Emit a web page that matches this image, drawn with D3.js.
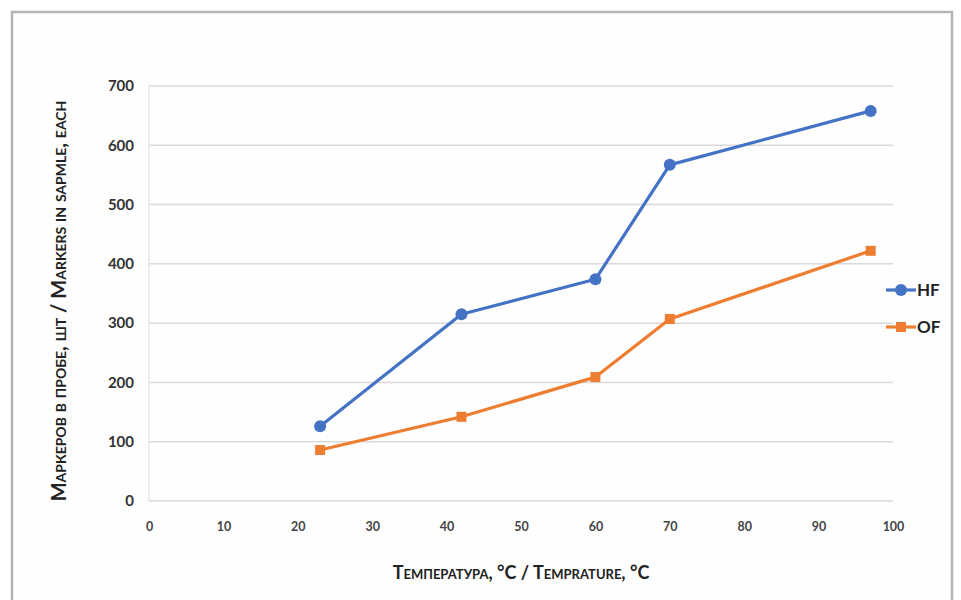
<!DOCTYPE html>
<html><head><meta charset="utf-8">
<script src="https://cdn.jsdelivr.net/npm/d3@7/dist/d3.min.js"></script>
<style>body{margin:0;background:#fff}svg{display:block}</style>
</head><body>
<svg id="c" width="961" height="600"></svg>
<script>
const temps = [23, 42, 60, 70, 97];
const seriesNames = ["HF", "OF"];
const hfValues = [126, 315, 374, 567, 658];
const ofValues = [86, 142, 209, 307, 422];
const xTicks = [0,10,20,30,40,50,60,70,80,90,100];
const yTicks = [0,100,200,300,400,500,600,700];
const colors = {HF:"#4472c4", OF:"#ed7d31"};

const svg = d3.select("#c");
const font = "Lato, 'Open Sans', sans-serif";
// outer frame
svg.append("rect").attr("x",0).attr("y",0).attr("width",961).attr("height",600).attr("fill","#fff");
svg.append("rect").attr("x",12).attr("y",12).attr("width",940).attr("height",600).attr("fill","#fefefe").attr("stroke","#b4b4b4").attr("stroke-width",2.5);

const x = d3.scaleLinear().domain([0,100]).range([149,893]);
const y = d3.scaleLinear().domain([0,700]).range([501,86]);

// gridlines
svg.append("g").selectAll("line").data(yTicks).join("line")
  .attr("x1",x(0)).attr("x2",x(100)).attr("y1",d=>y(d)).attr("y2",d=>y(d))
  .attr("stroke","#d9d9d9").attr("stroke-width",1.5);
svg.append("line").attr("x1",x(0)).attr("x2",x(0)).attr("y1",y(700)).attr("y2",y(0))
  .attr("stroke","#e6e6e6").attr("stroke-width",1.5);

// axes
const yAxis = svg.append("g").attr("transform",`translate(${x(0)-15},0)`)
  .call(d3.axisLeft(y).tickValues(yTicks).tickSize(0).tickPadding(0));
yAxis.select(".domain").remove();
yAxis.selectAll("text").attr("font-family",font).attr("font-weight","bold").attr("font-size",15).attr("fill","#333");

const xAxis = svg.append("g").attr("transform",`translate(0,${y(0)+26})`)
  .call(d3.axisBottom(x).tickValues(xTicks).tickSize(0).tickPadding(0).tickFormat(d3.format("d")));
xAxis.select(".domain").remove();
xAxis.selectAll("text").attr("font-family",font).attr("font-weight","bold").attr("font-size",12.5).attr("fill","#444").attr("dy","0.3em");

// axis titles
svg.append("text").attr("transform",`translate(66,301) rotate(-90)`)
  .attr("text-anchor","middle").attr("font-family",font).attr("font-weight","bold")
  .attr("font-size",20).style("font-variant","small-caps").attr("fill","#222")
  .text("Маркеров  в пробе, шт / Markers in sapmle, each");
svg.append("text").attr("x",521).attr("y",579).attr("text-anchor","middle")
  .attr("font-family",font).attr("font-weight","bold").attr("font-size",18)
  .style("font-variant","small-caps").attr("fill","#222")
  .text("Температура, °C / Temprature, °C");

const data = [
  {name:"HF", values:hfValues},
  {name:"OF", values:ofValues}
];
const line = d3.line().x((d,i)=>x(temps[i])).y(d=>y(d));
data.forEach(s=>{
  svg.append("path").attr("d",line(s.values)).attr("fill","none")
    .attr("stroke",colors[s.name]).attr("stroke-width",3.2).attr("stroke-linejoin","round");
  const g = svg.append("g");
  if (s.name==="HF") {
    g.selectAll("circle").data(s.values).join("circle")
      .attr("cx",(d,i)=>x(temps[i])).attr("cy",d=>y(d)).attr("r",6).attr("fill",colors.HF);
  } else {
    g.selectAll("rect").data(s.values).join("rect")
      .attr("x",(d,i)=>x(temps[i])-5).attr("y",d=>y(d)-5).attr("width",10).attr("height",10).attr("fill",colors.OF);
  }
});

// legend
const leg = svg.append("g");
seriesNames.forEach((n,i)=>{
  const ly = 290 + i*37;
  leg.append("line").attr("x1",886).attr("x2",916).attr("y1",ly).attr("y2",ly).attr("stroke",colors[n]).attr("stroke-width",3.2);
  if (n==="HF") leg.append("circle").attr("cx",901).attr("cy",ly).attr("r",6).attr("fill",colors[n]);
  else leg.append("rect").attr("x",896).attr("y",ly-5).attr("width",10).attr("height",10).attr("fill",colors[n]);
  leg.append("text").attr("x",917).attr("y",ly).attr("dy","0.36em").attr("font-family",font)
    .attr("font-weight","bold").attr("font-size",17).attr("fill","#222").text(n);
});
</script>
</body></html>
